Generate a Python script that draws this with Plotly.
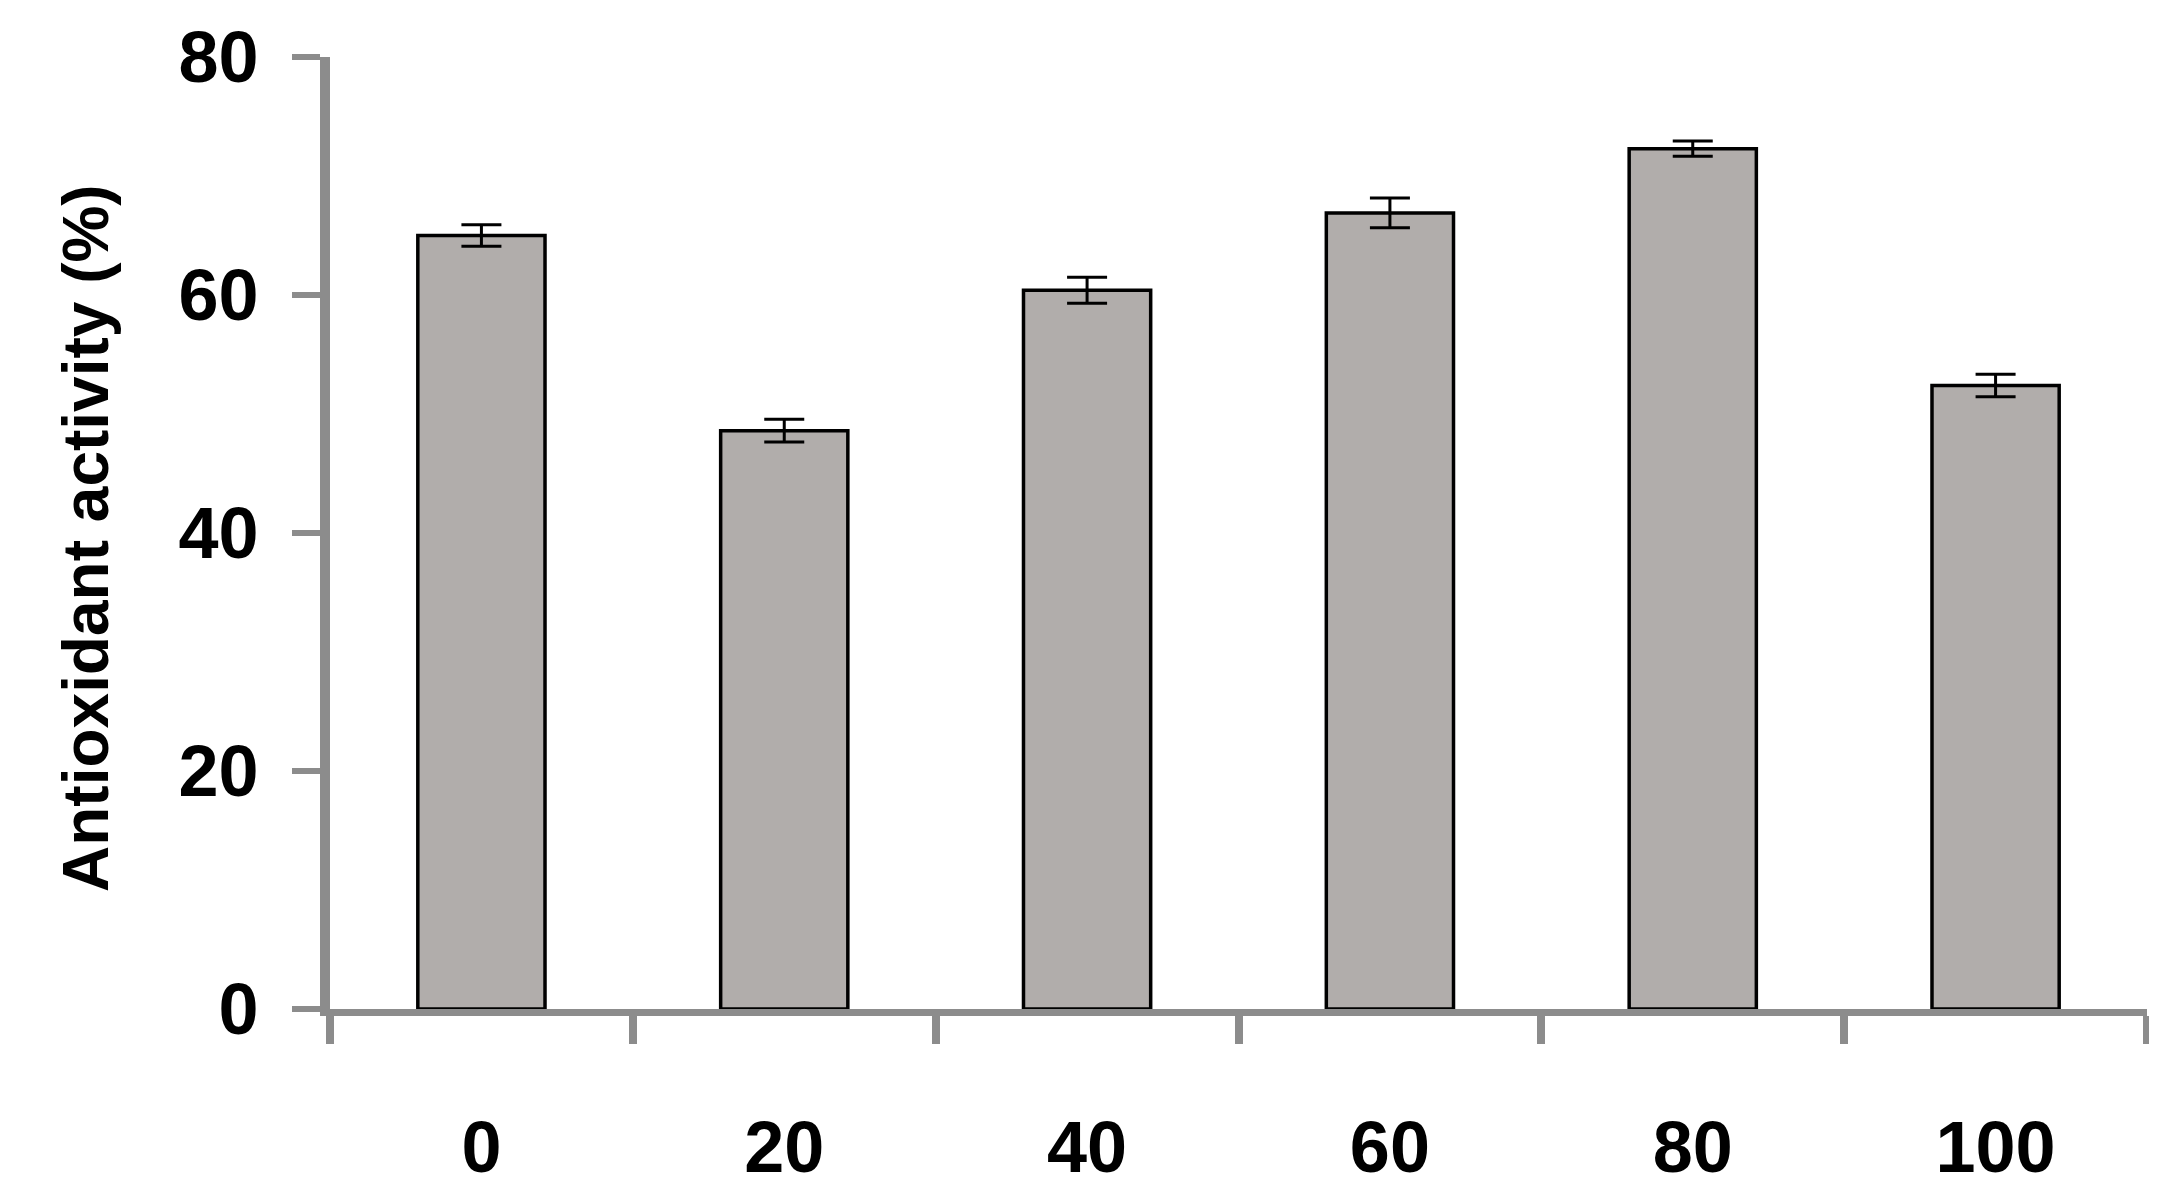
import plotly.graph_objects as go

categories = ["0", "20", "40", "60", "80", "100"]
activity = [65.0, 48.6, 60.4, 66.9, 72.3, 52.4]
errors = [0.9, 0.95, 1.1, 1.25, 0.65, 0.95]
y_ticks = [0, 20, 40, 60, 80]
y_title = "Antioxidant activity (%)"

FONT = "Liberation Sans, Arial, sans-serif"
AXIS_GREY = "#8c8c8c"

# the page body has an 8px default margin; compensate so the plot area lands
# at x 330..2139, y 57..1003 of the window
fig = go.Figure()
fig.add_trace(go.Bar(
    x=categories,
    y=activity,
    marker=dict(color="#b1adab", line=dict(color="black", width=3.5)),
    error_y=dict(type="data", array=errors, visible=True,
                 color="black", thickness=3, width=20),
    width=0.42,
))

fig.update_layout(
    width=2149, height=1196,
    margin=dict(l=322, r=10, t=49, b=195),
    plot_bgcolor="white", paper_bgcolor="white",
    showlegend=False,
    font=dict(family=FONT, color="black"),
    annotations=[dict(
        text="<b>" + y_title + "</b>",
        xref="paper", yref="paper",
        x=(87 - 330) / 1809, y=(1003 - 535) / 946,
        xanchor="center", yanchor="middle",
        textangle=-90, showarrow=False,
        font=dict(family=FONT, size=64, color="black"),
    )],
)

fig.update_xaxes(
    type="category",
    range=[-0.5, 5.5],
    showline=True, linecolor=AXIS_GREY, linewidth=7,
    ticks="outside", tickson="boundaries", ticklen=28, tickwidth=8,
    tickcolor=AXIS_GREY,
    tickfont=dict(family=FONT, size=72, color="black", weight="bold"),
    ticklabelstandoff=70,
    showgrid=False, zeroline=False,
)

fig.update_yaxes(
    range=[0, 80],
    tickvals=y_ticks,
    showline=True, linecolor=AXIS_GREY, linewidth=10,
    ticks="outside", ticklen=28, tickwidth=6, tickcolor=AXIS_GREY,
    tickfont=dict(family=FONT, size=72, color="black", weight="bold"),
    ticklabelstandoff=19,
    showgrid=False, zeroline=False,
)

fig.write_html("out.html")
